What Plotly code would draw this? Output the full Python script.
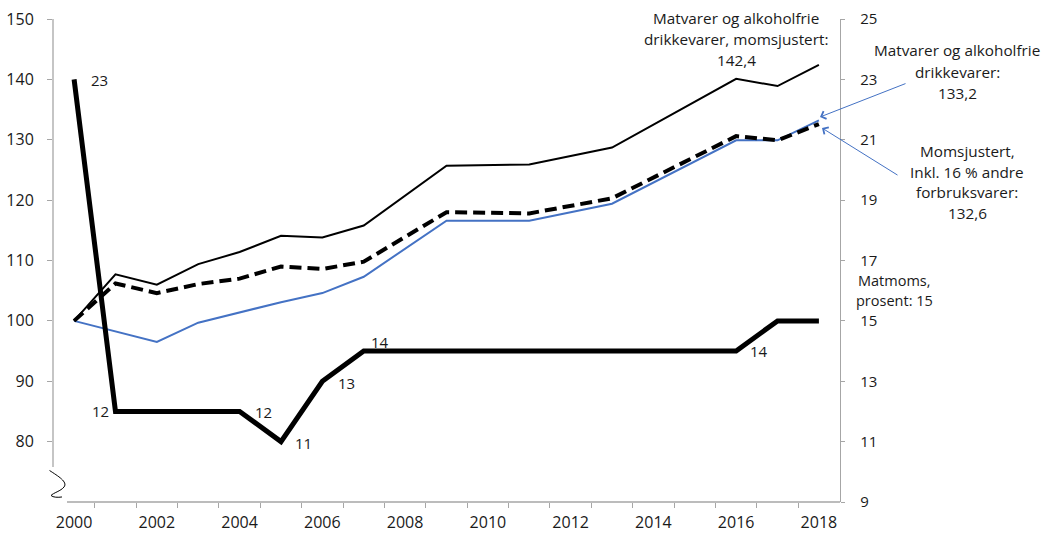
import plotly.graph_objects as go

# Index 2000 = 100 (left axis). Only the years where the lines bend.
years_moms_adj = [2000, 2001, 2002, 2003, 2004, 2005, 2006, 2007, 2009, 2011, 2013, 2016, 2017, 2018]
food_moms_adj = [100, 107.7, 106.0, 109.4, 111.4, 114.1, 113.8, 115.8, 125.7, 125.9, 128.7, 140.1, 138.9, 142.4]

years_food = [2000, 2002, 2003, 2005, 2006, 2007, 2009, 2011, 2013, 2016, 2017, 2018]
food = [100, 96.5, 99.7, 103.1, 104.6, 107.3, 116.6, 116.6, 119.4, 129.9, 129.9, 133.2]

years_incl_other = [2000, 2001, 2002, 2003, 2004, 2005, 2006, 2007, 2009, 2011, 2013, 2016, 2017, 2018]
incl_other = [100, 106.2, 104.6, 106.1, 107.0, 109.0, 108.6, 109.8, 118.0, 117.8, 120.3, 130.6, 129.9, 132.6]

# Matmoms, prosent (right axis)
years_vat = [2000, 2001, 2004, 2005, 2006, 2007, 2016, 2017, 2018]
food_vat = [23, 12, 12, 11, 13, 14, 14, 15, 15]

# labelled VAT points
vat_label_years = [2000, 2001, 2004, 2005, 2006, 2007, 2016]
vat_label_vals = [23, 12, 12, 11, 13, 14, 14]
vat_label_text = ["23", "12", "12", "11", "13", "14", "14"]
vat_label_shift = [(25, -1), (-15, 0), (24, -1), (23, -1), (24, -2), (16, 9), (23, 0)]

x_ticks = list(range(2000, 2019, 2))
left_ticks = [80, 90, 100, 110, 120, 130, 140, 150]
right_ticks = [9, 11, 13, 15, 17, 19, 21, 23, 25]

FONT = "'Open Sans', 'Noto Sans', sans-serif"
TXT = "#1a1a1a"
AXIS = "#a6a6a6"
BLUE = "#4472C4"

W, H = 1045, 535
L, R, T, B = 53, 840, 19, 502  # plot area in pixels


def px(x, y):
    """pixel -> paper coordinates"""
    return (x - L) / (R - L), (B - y) / (B - T)


fig = go.Figure()
fig.add_trace(go.Scatter(x=years_food, y=food, mode="lines", line=dict(color=BLUE, width=2), name="Matvarer"))
fig.add_trace(go.Scatter(x=years_moms_adj, y=food_moms_adj, mode="lines", line=dict(color="black", width=2), name="Momsjustert"))
fig.add_trace(go.Scatter(x=years_incl_other, y=incl_other, mode="lines",
                         line=dict(color="black", width=4, dash="12px,6px"), name="Inkl. andre"))
fig.add_trace(go.Scatter(x=years_vat, y=food_vat, mode="lines", yaxis="y2",
                         line=dict(color="black", width=5), name="Matmoms"))

annotations = []
for yr, v, t, (dx, dy) in zip(vat_label_years, vat_label_vals, vat_label_text, vat_label_shift):
    annotations.append(dict(x=yr, y=v, xref="x", yref="y2", text=t, showarrow=False,
                            xshift=dx, yshift=dy, font=dict(size=15, color=TXT)))

# right-hand text blocks: (lines, centre x px, first line y px, line step px, font size)
blocks = [
    (["Matvarer og alkoholfrie", "drikkevarer, momsjustert:", "142,4"], 736, 18, 21, 15.3),
    (["Matvarer og alkoholfrie", "drikkevarer:", "133,2"], 957, 50, 21.5, 15.3),
    (["Momsjustert,", "Inkl. 16 % andre", "forbruksvarer:", "132,6"], 967, 151, 20.7, 15.3),
    (["Matmoms,", "prosent: 15"], 895, 280, 20, 14.5),
]
for lines, cx, y0, step, size in blocks:
    for i, line in enumerate(lines):
        xp, yp = px(cx, y0 + i * step)
        annotations.append(dict(x=xp, y=yp, xref="paper", yref="paper", text=line, showarrow=False,
                                xanchor="center", yanchor="middle", font=dict(size=size, color=TXT)))

# arrows pointing at the end of the blue and dashed lines
for (tx, ty), (hx, hy) in [((907, 83), (820, 117)), ((899, 176), (822, 128))]:
    xp, yp = px(hx, hy)
    annotations.append(dict(x=xp, y=yp, xref="paper", yref="paper", ax=tx - hx, ay=ty - hy,
                            text="", showarrow=True, arrowhead=4, arrowsize=1.6, arrowwidth=1,
                            arrowcolor=BLUE))

shapes = []
# left axis, broken near the bottom
_, y_end = px(L, 467)
shapes.append(dict(type="line", xref="paper", yref="paper", x0=0, x1=0, y0=y_end, y1=1,
                   line=dict(color=AXIS, width=1.3)))
# x axis line starts after the break
xs, _ = px(67, B)
shapes.append(dict(type="line", xref="paper", yref="paper", x0=xs, x1=1, y0=0, y1=0,
                   line=dict(color=AXIS, width=1.3)))
# squiggle marking the axis break
path = ("M{:.4f},{:.4f} C{:.4f},{:.4f} {:.4f},{:.4f} {:.4f},{:.4f} "
        "C{:.4f},{:.4f} {:.4f},{:.4f} {:.4f},{:.4f} "
        "C{:.4f},{:.4f} {:.4f},{:.4f} {:.4f},{:.4f}").format(
    *px(49.5, 470.5), *px(58, 476), *px(68, 482), *px(64, 487),
    *px(61, 491), *px(53, 493), *px(51, 495.5),
    *px(53, 497.5), *px(58, 497.5), *px(62, 497))
shapes.append(dict(type="path", xref="paper", yref="paper", path=path,
                   line=dict(color="black", width=1)))

fig.update_layout(
    width=W, height=H,
    margin=dict(l=L, r=W - R, t=T, b=H - B, autoexpand=False),
    plot_bgcolor="white", paper_bgcolor="white",
    showlegend=False,
    font=dict(family=FONT, size=15, color=TXT),
    xaxis=dict(
        range=[1999.49, 2018.51], tickvals=x_ticks, ticks="", showline=False,
        showgrid=False, zeroline=False, ticklabelstandoff=9, tickfont=dict(size=16, color=TXT),
        minor=dict(tickvals=[y + 0.5 for y in range(2000, 2018)], ticks="outside",
                   ticklen=5, tickcolor=AXIS, showgrid=False),
    ),
    yaxis=dict(
        range=[70, 150], tickvals=left_ticks, ticks="outside", ticklen=5, tickcolor=AXIS,
        showline=False, showgrid=False, zeroline=False, ticklabelstandoff=10,
        tickfont=dict(size=16, color=TXT),
    ),
    yaxis2=dict(
        range=[9, 25], tickvals=right_ticks, overlaying="y", side="right", ticks="outside",
        ticklen=4, tickcolor=AXIS, showline=True, linecolor=AXIS, linewidth=1.3,
        showgrid=False, zeroline=False, ticklabelstandoff=12,
        tickfont=dict(size=15, color=TXT),
    ),
    annotations=annotations,
    shapes=shapes,
)

# drop the browser's default page margin so the figure sits at the window origin
fig.write_html("out.html", config={"displayModeBar": False},
               post_script="document.body.style.margin='0';")
